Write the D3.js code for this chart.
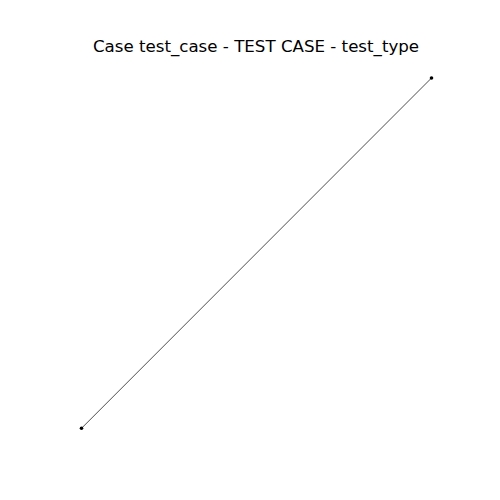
<!DOCTYPE html>
<html>
<head>
<meta charset="UTF-8">
<script src="https://cdn.jsdelivr.net/npm/d3@7/dist/d3.min.js"></script>
<style>
  * { margin: 0; padding: 0; }
  body { background: #fff; }
</style>
</head>
<body>
<svg width="500" height="500"></svg>
<script>
// data
const xValues = [0, 1];
const yValues = [0, 1];
const title = 'Case test_case - TEST CASE - test_type';

const svg = d3.select('svg');
const margin = { left: 64, right: 51, top: 60.5, bottom: 54.2 };
const width = 500, height = 500;

// matplotlib-like 5% padding
const pad = v => { const [a, b] = d3.extent(v); const m = (b - a) * 0.05; return [a - m, b + m]; };
const x = d3.scaleLinear().domain(pad(xValues)).range([margin.left, width - margin.right]);
const y = d3.scaleLinear().domain(pad(yValues)).range([height - margin.bottom, margin.top]);

const points = xValues.map((d, i) => [d, yValues[i]]);

svg.append('path')
  .datum(points)
  .attr('fill', 'none')
  .attr('stroke', '#000')
  .attr('stroke-width', 0.7)
  .attr('d', d3.line().x(d => x(d[0])).y(d => y(d[1])));

svg.append('g')
  .selectAll('circle')
  .data(points)
  .join('circle')
  .attr('cx', d => x(d[0]))
  .attr('cy', d => y(d[1]))
  .attr('r', 1.8)
  .attr('fill', '#000');

svg.append('text')
  .attr('x', 256)
  .attr('y', 52)
  .attr('text-anchor', 'middle')
  .attr('font-family', 'DejaVu Sans')
  .attr('font-size', 16.67)
  .attr('fill', '#000')
  .text(title);
</script>
</body>
</html>
